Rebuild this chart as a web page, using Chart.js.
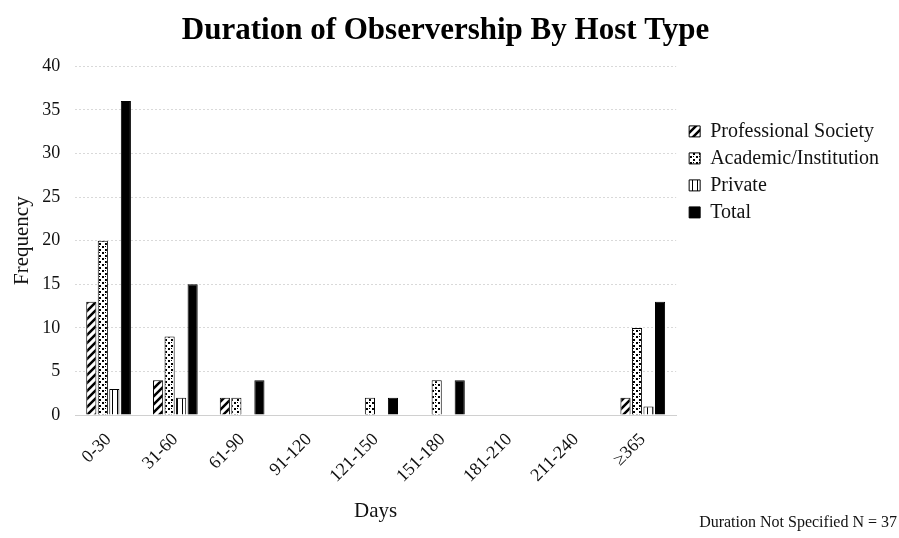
<!DOCTYPE html>
<html>
<head>
<meta charset="utf-8">
<script src="https://cdn.jsdelivr.net/npm/chart.js@4.4.2/dist/chart.umd.min.js"></script>
<style>
  html, body { margin: 0; padding: 0; background: #fff; }
  #wrap { position: relative; width: 899px; height: 538px; }
  #note {
    position: absolute; right: 2px; bottom: 7px;
    font: 16px "Liberation Serif", serif; color: #111;
  }
</style>
</head>
<body>
<div id="wrap">
  <canvas id="chart" width="899" height="538"></canvas>
  <div id="note">Duration Not Specified N = 37</div>
</div>
<script>
const categories = ['0-30', '31-60', '61-90', '91-120', '121-150', '151-180', '181-210', '211-240', '\u2265365'];
const professionalSociety = [13, 4, 2, 0, 0, 0, 0, 0, 2];
const academicInstitution = [20, 9, 2, 0, 2, 4, 0, 0, 10];
const privateHost = [3, 2, 0, 0, 0, 0, 0, 0, 1];
const total = [36, 15, 4, 0, 2, 4, 0, 0, 13];

const serif = '"Liberation Serif", "Times New Roman", serif';

function makePattern(draw, w, h) {
  const c = document.createElement('canvas');
  c.width = w;
  c.height = h;
  const ctx = c.getContext('2d');
  ctx.fillStyle = '#fff';
  ctx.fillRect(0, 0, w, h);
  draw(ctx);
  return c.getContext('2d').createPattern(c, 'repeat');
}

// diagonal stripes
const hatch = makePattern(ctx => {
  ctx.strokeStyle = '#000';
  ctx.lineWidth = 2.5;
  ctx.beginPath();
  ctx.moveTo(-2, 8); ctx.lineTo(8, -2);
  ctx.moveTo(2, 12); ctx.lineTo(12, 2);
  ctx.moveTo(-6, 4); ctx.lineTo(4, -6);
  ctx.stroke();
}, 8, 8);

// dotted fill
const dots = makePattern(ctx => {
  ctx.fillStyle = '#000';
  ctx.fillRect(0, 0, 2, 2);
  ctx.fillRect(3, 3, 2, 2);
  ctx.fillRect(3, 0, 1, 1);
}, 6, 6);

// thin vertical lines
const vlines = makePattern(ctx => {
  ctx.fillStyle = '#000';
  ctx.fillRect(2, 0, 1, 6);
}, 5, 6);

const common = { borderColor: '#000', borderWidth: 1, categoryPercentage: 0.69, barPercentage: 0.88 };

// push the legend a little further from the plot
const legendShift = {
  id: 'legendShift',
  afterLayout(chart) {
    chart.legend.left += 6;
    chart.legend.right += 6;
  }
};

new Chart(document.getElementById('chart'), {
  type: 'bar',
  data: {
    labels: categories,
    datasets: [
      { label: 'Professional Society', data: professionalSociety, backgroundColor: hatch, ...common },
      { label: 'Academic/Institution', data: academicInstitution, backgroundColor: dots, ...common },
      { label: 'Private', data: privateHost, backgroundColor: vlines, ...common },
      { label: 'Total', data: total, backgroundColor: '#000', ...common }
    ]
  },
  plugins: [legendShift],
  options: {
    responsive: false,
    animation: false,
    layout: { padding: { left: 8, right: 16, top: 0, bottom: 10 } },
    scales: {
      x: {
        grid: { display: false },
        border: { color: '#d0d0d0' },
        afterFit: (scale) => { scale.paddingLeft = 0; scale.paddingRight = 0; },
        ticks: {
          color: '#111',
          font: { family: serif, size: 18 },
          minRotation: 45,
          maxRotation: 45,
          padding: 6
        },
        title: {
          display: true,
          text: 'Days',
          color: '#111',
          font: { family: serif, size: 21 },
          padding: { top: 6 }
        }
      },
      y: {
        min: 0,
        max: 40,
        // chart.js reserves the tick padding twice; drop the extra
        afterFit: (scale) => { scale.width -= 15; },
        ticks: {
          stepSize: 5,
          color: '#111',
          font: { family: serif, size: 18 },
          padding: 15
        },
        grid: { color: '#d9d9d9', drawTicks: false },
        border: { display: false, dash: [2, 2] },
        title: {
          display: true,
          text: 'Frequency',
          color: '#111',
          font: { family: serif, size: 21 },
          padding: { top: 2, bottom: 7 }
        }
      }
    },
    plugins: {
      title: {
        display: true,
        text: 'Duration of Observership By Host Type',
        color: '#000',
        font: { family: serif, size: 31, weight: 'bold' },
        padding: { top: 12, bottom: 17 }
      },
      legend: {
        position: 'right',
        align: 'start',
        title: { display: true, text: ' ', padding: { top: 100, bottom: 0 } },
        labels: {
          boxWidth: 11,
          boxHeight: 11,
          padding: 7,
          color: '#111',
          font: { family: serif, size: 20 }
        }
      },
      tooltip: { enabled: false }
    }
  }
});
</script>
</body>
</html>
